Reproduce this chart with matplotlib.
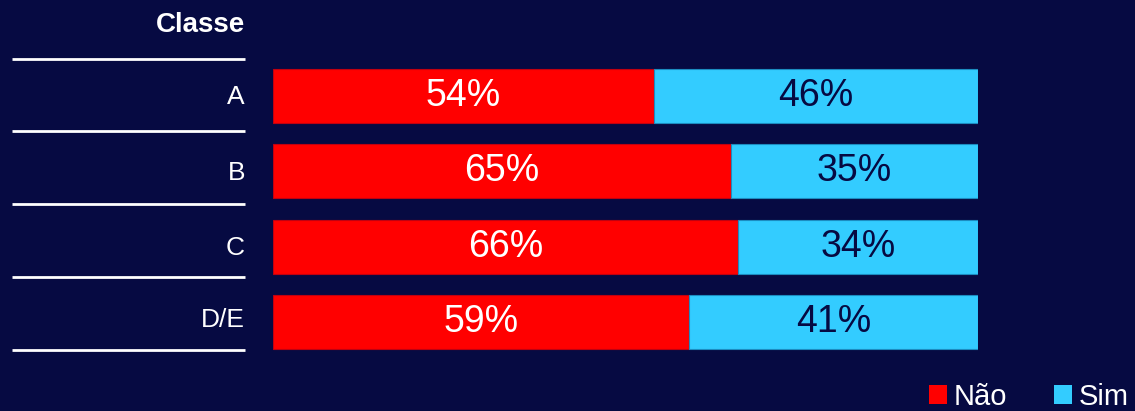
import matplotlib.pyplot as plt
from matplotlib.patches import Patch
from matplotlib.transforms import blended_transform_factory

plt.rcParams['font.family'] = ['Liberation Sans', 'DejaVu Sans']

classes = ['A', 'B', 'C', 'D/E']
nao = [54, 65, 66, 59]
sim = [46, 35, 34, 41]

bg = '#060a42'
red = '#ff0000'
cyan = '#33ccff'

W, H = 1135, 411
fig = plt.figure(figsize=(W / 100, H / 100), dpi=100, facecolor=bg)

# axes placed in pixels: bars from x=273 to 978, rows centred 96..322
x0, x1 = 273, 978
top, bot = 58.3, 359.7
ax = fig.add_axes([x0 / W, 1 - bot / H, (x1 - x0) / W, (bot - top) / H])
ax.set_facecolor(bg)
ax.set_xlim(0, 100)
ax.set_ylim(3.5, -0.5)
ax.axis('off')

y = list(range(len(classes)))
h = 0.717
ax.barh(y, nao, height=h, color=red, edgecolor='#c00010', linewidth=0.8)
ax.barh(y, sim, left=nao, height=h, color=cyan, edgecolor='#1c8cc0', linewidth=0.8)

for i in y:
    ax.text(nao[i] / 2, i, f'{nao[i]}%', ha='center', va='center',
            color='white', fontsize=27)
    ax.text(nao[i] + sim[i] / 2, i, f'{sim[i]}%', ha='center', va='center',
            color=bg, fontsize=27)

tr = blended_transform_factory(ax.transAxes, ax.transData)
lx0 = (12 - x0) / (x1 - x0)
lx1 = (245 - x0) / (x1 - x0)
px_per_row = (bot - top) / 4

for i, c in enumerate(classes):
    ax.text(lx1, i + 0.02 - (0.05 if c == 'D/E' else 0), c, transform=tr,
            ha='right', va='center', color='white', fontsize=19)

ax.text(lx1, (25 - 96) / px_per_row, 'Classe', transform=tr, ha='right',
        va='center', color='white', fontsize=20, fontweight='bold')

for ypx in [59, 131, 204, 277, 350]:
    yd = (ypx - 96) / px_per_row
    ax.plot([lx0, lx1], [yd, yd], transform=tr, color='white', lw=2,
            clip_on=False, solid_capstyle='butt')

handles = [Patch(facecolor=red, label='Não'), Patch(facecolor=cyan, label='Sim')]
leg = fig.legend(handles=handles, loc='lower right',
                 bbox_to_anchor=(1129 / W, 0.0), ncol=2, frameon=False,
                 fontsize=21, handlelength=0.6, handleheight=0.6,
                 handletextpad=0.25, columnspacing=1.6, borderpad=0,
                 borderaxespad=0)
for t in leg.get_texts():
    t.set_color('white')

fig.savefig('out.png', dpi=100, facecolor=bg)
